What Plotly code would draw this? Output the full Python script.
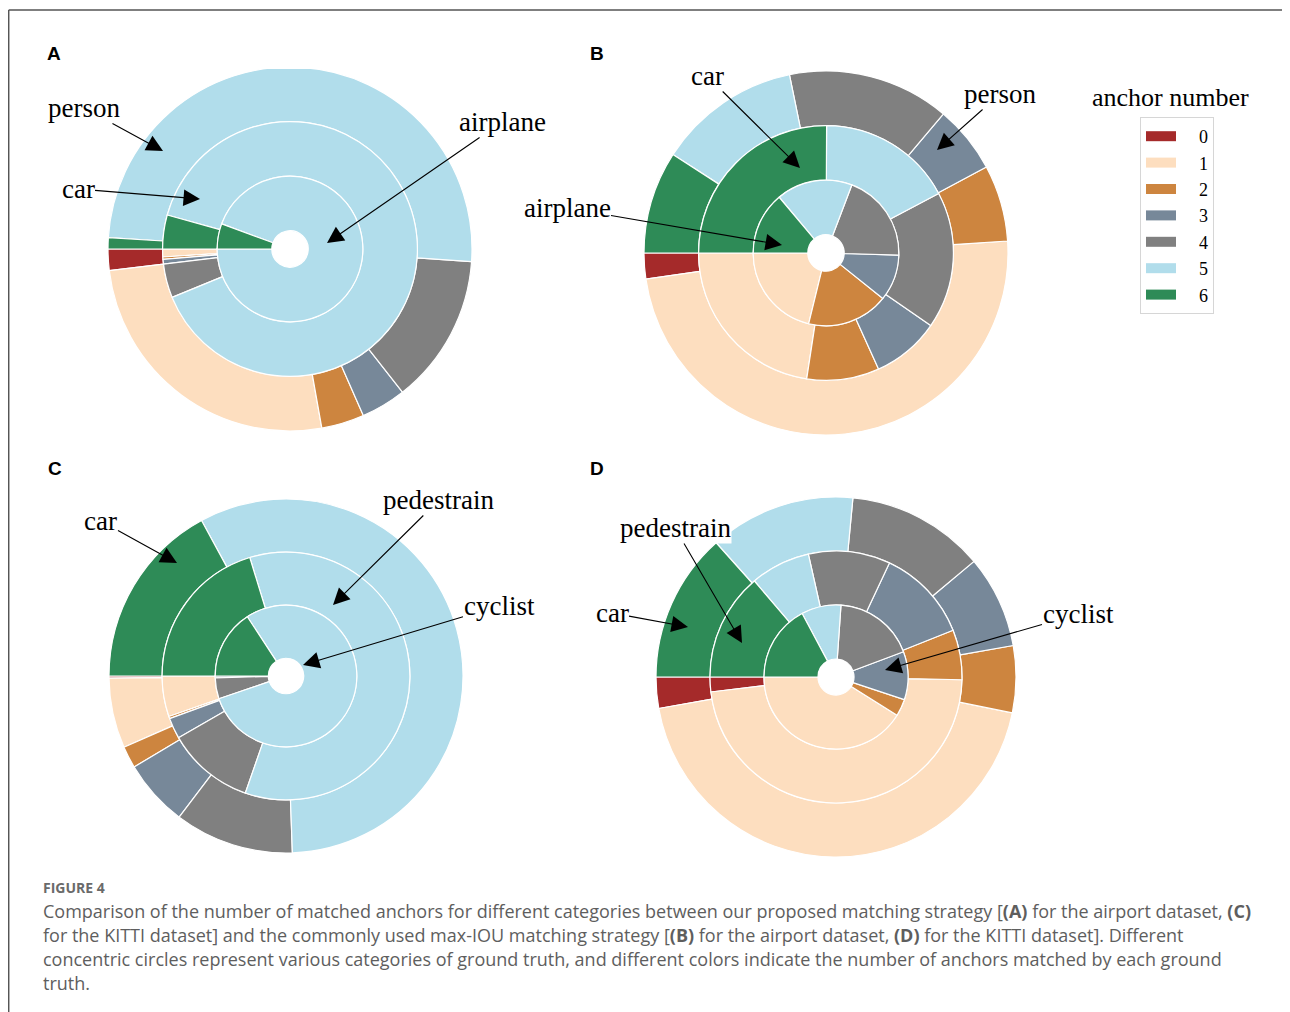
import plotly.graph_objects as go

# page body adds an 8 px margin: the figure is placed at (8, 8)
OFF = 8
W, H = 1282, 1004

# ---------------- data (percent of ground truths per anchor number) ----------------
LABELS = ["0", "1", "2", "3", "4", "5", "6"]
COLORS = ["#A52A2A", "#FDDEBF", "#CD853F", "#778899", "#808080", "#B1DDEB", "#2E8B57"]

A_person = [1.9, 25.9, 3.8, 4.0, 13.3, 50.1, 1.0]
A_car = [0, 1.0, 0.3, 0.6, 4.3, 89.5, 4.3]
A_airplane = [0, 0, 0, 0, 0, 94.4, 5.6]

B_person = [2.3, 48.8, 6.8, 6.0, 14.4, 12.7, 9.1]
B_car = [0, 22.6, 9.2, 8.6, 17.4, 17.2, 25.1]
B_airplane = [0, 21.2, 18.1, 10.3, 19.7, 16.9, 13.9]

C_car = [0.2, 6.4, 2.0, 6.1, 10.9, 57.4, 17.1]
C_pedestrain = [0, 5.3, 0.3, 2.7, 11.4, 60.1, 20.3]
C_cyclist = [0, 0, 0, 0.4, 4.8, 79.0, 15.8]

D_car = [2.8, 44.0, 6.0, 8.3, 12.4, 13.1, 13.4]
D_pedestrain = [1.9, 47.8, 6.4, 12.0, 10.5, 7.7, 13.8]
D_cyclist = [0, 41.1, 3.8, 10.8, 18.2, 8.9, 17.2]

# ---------------- layout helpers ----------------
FRACS = [1.0, 0.7, 0.4, 0.1]  # ring radii as fraction of outer radius


def px(x):
    return (x - OFF) / W


def py(y):
    return 1 - (y - OFF) / H


def ring(values, cx, cy, r_out, r_in):
    dom = dict(x=[px(cx - r_out), px(cx + r_out)], y=[py(cy + r_out), py(cy - r_out)])
    # plotly places the first slice clockwise of `rotation` when going counterclockwise;
    # shift so the first slice starts at 9 o'clock and runs counterclockwise (downwards)
    rot = 270 - 360.0 * values[0] / sum(values)
    return go.Pie(values=values, labels=LABELS, sort=False,
                  direction="counterclockwise", rotation=rot,
                  hole=r_in / r_out, domain=dom, textinfo="none",
                  marker=dict(colors=COLORS, line=dict(color="white", width=1.2)),
                  showlegend=False, hoverinfo="label+percent")


panels = [
    ((290, 249, 182), [A_person, A_car, A_airplane]),
    ((826, 253, 182), [B_person, B_car, B_airplane]),
    ((286, 676, 177), [C_car, C_pedestrain, C_cyclist]),
    ((836, 677, 180), [D_car, D_pedestrain, D_cyclist]),
]

fig = go.Figure()
for (cx, cy, R), rings in panels:
    for k, vals in enumerate(rings):
        fig.add_trace(ring(vals, cx, cy, R * FRACS[k], R * FRACS[k + 1]))

# legend entries (wide colour patches)
for lab, col in zip(LABELS, COLORS):
    fig.add_trace(go.Scatter(x=[None], y=[None], mode="lines",
                             name="&nbsp;&nbsp;&nbsp;&nbsp;" + lab,
                             line=dict(color=col, width=12), hoverinfo="skip"))

annotations = []

# arrows with category labels: (text, text centre x, y, tip x, y)
arrows = [
    ("person", 84, 108, 163, 151),
    ("car", 78, 189, 200, 199),
    ("airplane", 502, 122, 327, 243),
    ("car", 707, 76, 800, 168),
    ("person", 1000, 94, 937, 150),
    ("airplane", 567, 208, 782, 245),
    ("car", 101, 521, 177, 563),
    ("pedestrain", 439, 500, 333, 605),
    ("cyclist", 499, 606, 303, 665),
    ("pedestrain", 675, 528, 742, 643),
    ("car", 612, 613, 688, 627),
    ("cyclist", 1078, 614, 885, 670),
]
for txt, tx, ty, ax_, ay_ in arrows:
    annotations.append(dict(
        text=txt, x=px(ax_), y=py(ay_), xref="paper", yref="paper",
        ax=tx - ax_, ay=ty - ay_, showarrow=True, arrowhead=2, arrowsize=3,
        arrowwidth=1.1, arrowcolor="black", standoff=0, bgcolor="white",
        borderpad=0, font=dict(family="Liberation Serif", size=27, color="black")))

# panel letters
for letter, lx, ly in [("A", 54, 54), ("B", 597, 54), ("C", 55, 468), ("D", 597, 468)]:
    annotations.append(dict(text="<b>%s</b>" % letter, x=px(lx), y=py(ly),
                            xref="paper", yref="paper", showarrow=False,
                            xanchor="center", yanchor="middle",
                            font=dict(family="Liberation Sans", size=19, color="black")))

# legend title
annotations.append(dict(text="anchor number", x=px(1170), y=py(97), xref="paper",
                        yref="paper", showarrow=False, xanchor="center", yanchor="middle",
                        font=dict(family="Liberation Serif", size=26, color="black")))

# caption
annotations.append(dict(text="<b>FIGURE 4</b>", x=px(41), y=py(887), xref="paper",
                        yref="paper", showarrow=False, xanchor="left", yanchor="middle",
                        font=dict(family="Open Sans", size=14, color="#6a6a6a")))
caption = [
    "Comparison of the number of matched anchors for different categories between our proposed matching strategy [<b>(A)</b> for the airport dataset, <b>(C)</b>",
    "for the KITTI dataset] and the commonly used max-IOU matching strategy [<b>(B)</b> for the airport dataset, <b>(D)</b> for the KITTI dataset]. Different",
    "concentric circles represent various categories of ground truth, and different colors indicate the number of anchors matched by each ground",
    "truth.",
]
for i, line in enumerate(caption):
    annotations.append(dict(text=line, x=px(41), y=py(911 + 24 * i), xref="paper",
                            yref="paper", showarrow=False, xanchor="left", yanchor="middle",
                            font=dict(family="Open Sans", size=18, color="#5e5e5e")))

shapes = [
    # crop of the top of panel A
    dict(type="rect", xref="paper", yref="paper", x0=px(200), x1=px(390),
         y0=py(69), y1=py(12), fillcolor="white", line=dict(width=0), layer="above"),
    # page frame
    dict(type="line", xref="paper", yref="paper", x0=px(8.7), x1=1, y0=py(10), y1=py(10),
         line=dict(color="#555555", width=1.5)),
    dict(type="line", xref="paper", yref="paper", x0=px(8.7), x1=px(8.7), y0=0, y1=py(10),
         line=dict(color="#555555", width=1.5)),
]

fig.update_layout(
    width=W, height=H, margin=dict(l=0, r=0, t=0, b=0),
    paper_bgcolor="white", plot_bgcolor="white",
    xaxis=dict(visible=False, range=[0, 1]), yaxis=dict(visible=False, range=[0, 1]),
    showlegend=True,
    legend=dict(x=px(1140), y=py(117), xanchor="left", yanchor="top",
                bgcolor="white", bordercolor="#d6d6d6", borderwidth=1,
                font=dict(family="Liberation Serif", size=18, color="black"),
                itemclick=False, itemdoubleclick=False),
    annotations=annotations, shapes=shapes,
)

fig.write_html("out.html")
